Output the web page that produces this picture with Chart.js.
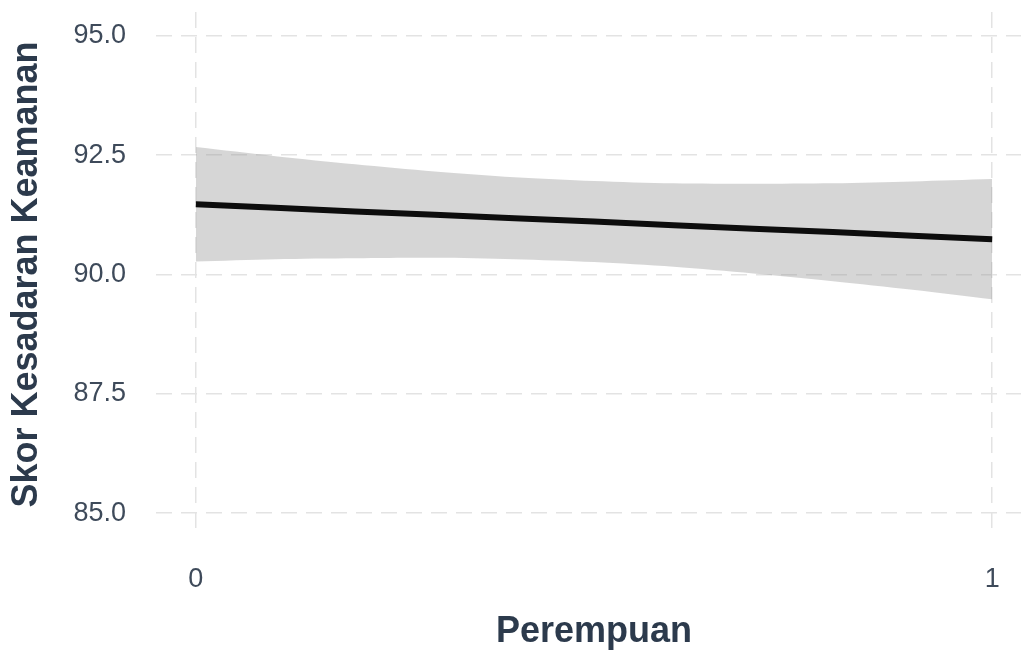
<!DOCTYPE html>
<html>
<head>
<meta charset="utf-8">
<script src="https://cdn.jsdelivr.net/npm/chart.js@4"></script>
<style>
  html, body { margin: 0; padding: 0; background: #ffffff; overflow: hidden; }
  #wrap { width: 1021px; height: 655px; overflow: hidden; }
</style>
</head>
<body>
<div id="wrap"><canvas id="chart" width="1032" height="655"></canvas></div>
<script>
// Datos (modelo lineal con banda de confianza)
const perempuan = [0, 0.1, 0.2, 0.3, 0.4, 0.5, 0.6, 0.7, 0.8, 0.9, 1];
const skorFit   = [91.47, 91.40, 91.32, 91.25, 91.18, 91.11, 91.03, 90.96, 90.89, 90.81, 90.74];
const skorUpper = [92.67, 92.48, 92.31, 92.16, 92.04, 91.96, 91.91, 91.90, 91.91, 91.95, 92.00];
const skorLower = [90.27, 90.32, 90.34, 90.35, 90.32, 90.26, 90.16, 90.02, 89.86, 89.68, 89.48];
const xTicks = [0, 1];
const yTicks = [85, 87.5, 90, 92.5, 95];

const TICK_COLOR = '#3e4a5a';
const TITLE_COLOR = '#2c3a4c';
const GRID_COLOR = '#e3e3e3';
const FONT = 'Liberation Sans, Arial, sans-serif';

const toPoints = (ys) => perempuan.map((x, i) => ({ x: x, y: ys[i] }));

new Chart(document.getElementById('chart').getContext('2d'), {
    type: 'line',
    data: {
        datasets: [
            {
                label: 'fit',
                data: toPoints(skorFit),
                borderColor: '#0d0d0d',
                borderWidth: 6,
                pointRadius: 0,
                fill: false,
                tension: 0
            },
            {
                label: 'upper',
                data: toPoints(skorUpper),
                borderWidth: 0,
                borderColor: 'rgba(0,0,0,0)',
                backgroundColor: 'rgba(153,153,153,0.4)',
                pointRadius: 0,
                fill: '+1',
                tension: 0.3
            },
            {
                label: 'lower',
                data: toPoints(skorLower),
                borderWidth: 0,
                borderColor: 'rgba(0,0,0,0)',
                pointRadius: 0,
                fill: false,
                tension: 0.3
            }
        ]
    },
    options: {
        responsive: false,
        animation: false,
        layout: { padding: { top: 12, right: 0, bottom: 0, left: 0 } },
        plugins: { legend: { display: false }, tooltip: { enabled: false } },
        scales: {
            x: {
                type: 'linear',
                min: -0.05,
                max: 1.05,
                afterBuildTicks: (s) => { s.ticks = xTicks.map(v => ({ value: v })); },
                afterFit: (s) => { s.height = 118; s.paddingLeft = 0; s.paddingRight = 0; },
                border: { display: false, dash: [16, 9] },
                grid: { color: GRID_COLOR, lineWidth: 1.5, drawTicks: false },
                ticks: {
                    color: TICK_COLOR,
                    padding: 26,
                    font: { family: FONT, size: 27 },
                    callback: (v) => String(v)
                },
                title: {
                    display: true,
                    text: 'Perempuan',
                    color: TITLE_COLOR,
                    padding: { top: 0, bottom: 1 },
                    font: { family: FONT, size: 36, weight: 'bold' }
                }
            },
            y: {
                min: 84.5,
                max: 95.5,
                afterBuildTicks: (s) => { s.ticks = yTicks.map(v => ({ value: v })); },
                afterFit: (s) => { s.width = 156; s.paddingTop = 0; s.paddingBottom = 0; },
                border: { display: false, dash: [16, 9] },
                grid: { color: GRID_COLOR, lineWidth: 1.5, drawTicks: false },
                ticks: {
                    color: TICK_COLOR,
                    padding: 30,
                    font: { family: FONT, size: 27 },
                    callback: (v) => Number(v).toFixed(1)
                },
                title: {
                    display: true,
                    text: 'Skor Kesadaran Keamanan',
                    color: TITLE_COLOR,
                    padding: { top: 5, bottom: 0 },
                    font: { family: FONT, size: 36, weight: 'bold' }
                }
            }
        }
    }
});
</script>
</body>
</html>
